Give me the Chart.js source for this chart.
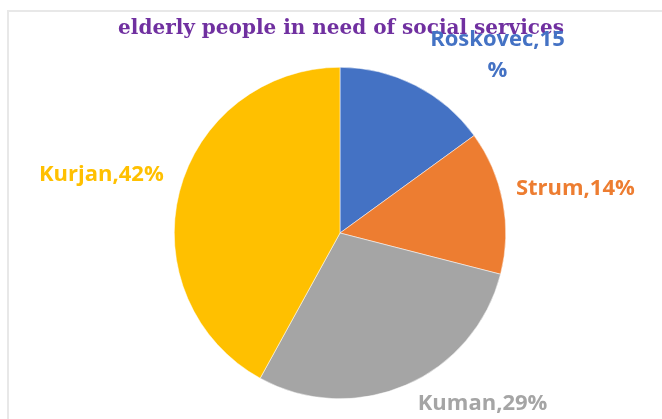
<!DOCTYPE html>
<html>
<head>
<meta charset="utf-8">
<script src="https://cdn.jsdelivr.net/npm/chart.js@4/dist/chart.umd.min.js"></script>
<style>
  html, body { margin: 0; padding: 0; background: #ffffff; }
  #wrap { width: 662px; height: 419px; }
</style>
</head>
<body>
<div id="wrap"><canvas id="pie" width="662" height="419"></canvas></div>
<script>
// Share of elderly people in need of social services, by unit
const categories = ['Roskovec', 'Strum', 'Kuman', 'Kurjan'];
const shares = [15, 14, 29, 42];
const sliceColors = ['#4472C4', '#ED7D31', '#A5A5A5', '#FFC000'];
const chartTitle = 'elderly people in need of social services';

// Label text lines per slice ("Roskovec,15%" wraps after the number)
const labelLines = categories.map((c, i) => {
  const t = c + ',' + shares[i] + '%';
  return i === 0 ? [c + ',' + shares[i], '%'] : [t];
});

// Label anchor offsets from the pie centre, in units of the pie radius
const labelOffsets = [[0.95, -1.07], [1.42, -0.27], [0.86, 1.03], [-1.44, -0.35]];

const frameAndLabels = {
  id: 'frameAndLabels',
  beforeDraw(chart) {
    const ctx = chart.ctx;
    ctx.save();
    ctx.strokeStyle = '#E8E8E8';
    ctx.lineWidth = 2;
    ctx.beginPath();
    ctx.moveTo(8, chart.height);
    ctx.lineTo(8, 11);
    ctx.lineTo(chart.width, 11);
    ctx.stroke();
    ctx.restore();
  },
  afterDraw(chart) {
    const ctx = chart.ctx;
    const arc = chart.getDatasetMeta(0).data[0];
    const cx = arc.x, cy = arc.y, r = arc.outerRadius;
    ctx.save();
    // title
    ctx.font = 'bold 20px "DejaVu Serif"';
    ctx.fillStyle = '#7030A0';
    ctx.textAlign = 'center';
    ctx.textBaseline = 'alphabetic';
    ctx.fillText(chartTitle, cx + 1, 34);
    // data labels
    ctx.font = 'bold 22px "Open Sans"';
    ctx.textBaseline = 'middle';
    labelLines.forEach((lines, i) => {
      const x = cx + labelOffsets[i][0] * r;
      const y = cy + labelOffsets[i][1] * r;
      const lh = 31;
      const y0 = y - (lines.length - 1) * lh / 2;
      ctx.fillStyle = sliceColors[i];
      lines.forEach((ln, k) => ctx.fillText(ln, x, y0 + k * lh));
    });
    ctx.restore();
  }
};

new Chart(document.getElementById('pie'), {
  type: 'pie',
  data: {
    labels: categories,
    datasets: [{
      data: shares,
      backgroundColor: sliceColors,
      borderColor: '#ffffff',
      borderWidth: 0.5
    }]
  },
  options: {
    responsive: false,
    animation: false,
    layout: { padding: { left: 174, right: 156, top: 67, bottom: 20 } },
    plugins: {
      legend: { display: false },
      tooltip: { enabled: false },
      title: { display: false }
    }
  },
  plugins: [frameAndLabels]
});
</script>
</body>
</html>
